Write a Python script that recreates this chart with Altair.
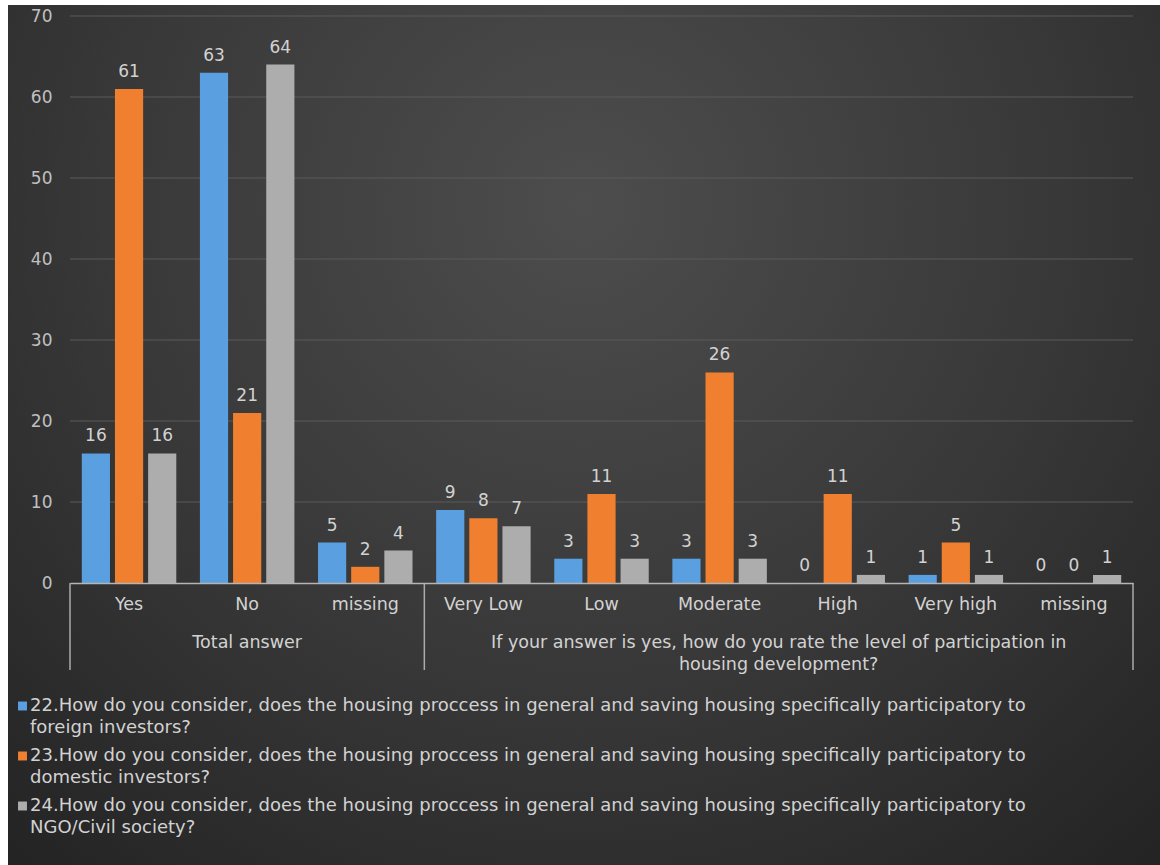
import altair as alt
import pandas as pd

# ---- data ----
group_names = ["Total answer",
               "If your answer is yes,  how do you rate the level of participation in|housing development?"]
categories = ["Yes", "No", "missing", "Very Low", "Low", "Moderate", "High", "Very high", "missing"]
category_group = [0, 0, 0, 1, 1, 1, 1, 1, 1]
series = [
    "22.How do you consider, does the housing proccess in general and saving housing specifically participatory to|foreign investors?",
    "23.How do you consider, does the housing proccess in general and saving housing specifically participatory to|domestic investors?",
    "24.How do you consider, does the housing proccess in general and saving housing specifically participatory to|NGO/Civil society?",
]
values_22 = [16, 63, 5, 9, 3, 3, 0, 1, 0]
values_23 = [61, 21, 2, 8, 11, 26, 11, 5, 0]
values_24 = [16, 64, 4, 7, 3, 3, 1, 1, 1]
y_ticks = [0, 10, 20, 30, 40, 50, 60, 70]
colors = ["#5a9fe0", "#f0802f", "#adadad"]

group_bounds = [0, 3, 9]
group_centers = [1.5, 6.0]

keys = [f"{g}#{i}|{c}" for i, (c, g) in enumerate(zip(categories, category_group))]
rows = []
for s, vals in zip(series, [values_22, values_23, values_24]):
    for k, v in zip(keys, vals):
        rows.append({"key": k, "series": s, "value": v})
df = pd.DataFrame(rows)

W, H = 1063, 567
PAD_L, PAD_T = 70, 16
FONT = "DejaVu Sans"
TXT = "#d2d2d2"
FS = 17
FS_TXT = 17.5

yscale = alt.Scale(domain=[0, 70], nice=False)
xscale = alt.Scale(paddingInner=0.2, paddingOuter=0.1)
xaxis = alt.Axis(title=None, labelExpr="split(datum.label, '|')[1]",
                 labelAngle=0, labelFontSize=FS_TXT, labelColor=TXT,
                 labelPadding=12, ticks=False, domainColor="#b5b5b5",
                 domainWidth=1.5, labelFont=FONT, zindex=1)
xo = alt.XOffset("series:N", sort=series, scale=alt.Scale(paddingInner=0.15))
cscale = alt.Scale(domain=series, range=colors)

base = alt.Chart(df)
bars = base.mark_bar().encode(
    x=alt.X("key:N", sort=keys, scale=xscale, axis=xaxis),
    xOffset=xo,
    y=alt.Y("value:Q", scale=yscale,
            axis=alt.Axis(title=None, values=y_ticks, labelFontSize=FS,
                          labelColor="#c0c0c0", labelPadding=18, domain=False,
                          ticks=False, grid=False, labelFont=FONT, zindex=1)),
    color=alt.Color("series:N", sort=series, scale=cscale, legend=None),
)
labels = base.mark_text(baseline="bottom", dy=-8, fontSize=FS, color=TXT,
                        font=FONT).encode(
    x=alt.X("key:N", sort=keys, scale=xscale, axis=xaxis),
    xOffset=xo,
    y=alt.Y("value:Q", scale=yscale),
    text=alt.Text("value:Q"),
)
inner = alt.layer(bars, labels)

grid = alt.Chart(pd.DataFrame({"t": y_ticks[1:]})).mark_rule(
    color="#5a5a5a", strokeWidth=1).encode(
    y=alt.Y("t:Q", scale=yscale), x=alt.value(0), x2=alt.value(W))

bg = alt.Chart(pd.DataFrame({"a": [0]})).mark_rect(
    fill={"gradient": "radial", "x1": 0.5, "y1": 0.3, "r1": 0,
          "x2": 0.5, "y2": 0.3, "r2": 0.75,
          "stops": [{"offset": 0, "color": "#4d4d4d"},
                    {"offset": 0.55, "color": "#383838"},
                    {"offset": 1, "color": "#242424"}]}
).encode(x=alt.value(8 - PAD_L), x2=alt.value(1160 - PAD_L),
         y=alt.value(5 - PAD_T), y2=alt.value(865 - PAD_T))

qscale = alt.Scale(domain=[0, 9], nice=False, zero=False)
rules = alt.Chart(pd.DataFrame({"pos": group_bounds})).mark_rule(
    color="#ababab", strokeWidth=1.5).encode(
    x=alt.X("pos:Q", scale=qscale, axis=None),
    y=alt.value(H), y2=alt.value(H + 87),
)

gl_df = pd.DataFrame({"pos": group_centers, "name": group_names})
group_text = alt.Chart(gl_df).mark_text(lineBreak="|", baseline="middle", fontSize=FS_TXT,
                                        color=TXT, lineHeight=22,
                                        font=FONT).encode(
    x=alt.X("pos:Q", scale=qscale, axis=None),
    y=alt.value(643 - PAD_T),
    text="name:N",
)

# ---- legend (built from the series list) ----
legend_layers = []
for i, (s, col) in enumerate(zip(series, colors)):
    d = pd.DataFrame({"series": [s]})
    y0 = 706 - PAD_T + 50 * i
    sym = alt.Chart(d).mark_square(size=80, opacity=1).encode(
        x=alt.value(22.5 - PAD_L), y=alt.value(y0),
        fill=alt.value(col))
    txt = alt.Chart(d).mark_text(lineBreak="|", lineHeight=22, align="left",
                                 baseline="middle", fontSize=18, color=TXT,
                                 font=FONT).encode(
        x=alt.value(30 - PAD_L), y=alt.value(y0), text="series:N")
    legend_layers += [sym, txt]

chart = alt.layer(bg, grid, inner, rules, group_text, *legend_layers).resolve_scale(
    x="independent").properties(
    width=W, height=H,
    autosize=alt.AutoSizeParams(type="none"),
    padding={"left": PAD_L, "top": PAD_T, "right": 1160 - PAD_L - W,
             "bottom": 865 - PAD_T - H},
    background="#ffffff",
).configure_view(stroke=None)

chart.save("out.html", embed_options={"renderer": "svg", "actions": False})
